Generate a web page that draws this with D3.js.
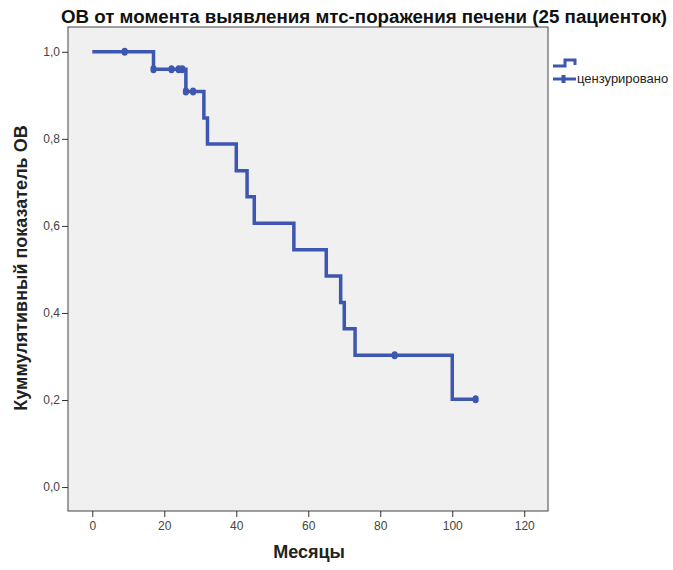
<!DOCTYPE html>
<html>
<head>
<meta charset="utf-8">
<script src="https://cdn.jsdelivr.net/npm/d3@7/dist/d3.min.js"></script>
<style>
  body { margin: 0; background: #fff; }
  svg { display: block; font-family: "Liberation Sans", Arial, sans-serif; }
</style>
</head>
<body>
<div id="chart"></div>
<script>
(function() {
    'use strict';

    // event times (months) and survival level after each drop
    var eventTimes = [0, 17, 26, 31, 32, 40, 43, 45, 56, 65, 69, 70, 73, 100];
    var survival = [1.0, 0.96, 0.909, 0.848, 0.788, 0.727, 0.667, 0.606, 0.545, 0.485, 0.424, 0.364, 0.303, 0.202];
    var lastTime = 106.5;

    // censored observations
    var censorTimes = [9, 17, 22, 24, 25, 26, 28, 84, 106.5];

    var xTicks = [0, 20, 40, 60, 80, 100, 120];
    var yTicks = [0, 0.2, 0.4, 0.6, 0.8, 1.0];

    var title = 'ОВ от момента выявления мтс-поражения печени (25 пациенток)';
    var xTitle = 'Месяцы';
    var yTitle = 'Куммулятивный показатель ОВ';
    var legendLabel = 'цензурировано';

    var W = 673, H = 570;
    var box = {left: 68, right: 548, top: 27, bottom: 511};
    var lineColor = '#3d57b1';

    var svg = d3.select('#chart').append('svg')
        .attr('width', W).attr('height', H);

    var x = d3.scaleLinear().domain([-6.75, 126.6]).range([box.left, box.right]);
    var y = d3.scaleLinear().domain([-0.055, 1.057]).range([box.bottom, box.top]);

    // plot background
    svg.append('rect')
        .attr('x', box.left).attr('y', box.top)
        .attr('width', box.right - box.left).attr('height', box.bottom - box.top)
        .attr('fill', '#f0f0f0').attr('stroke', '#444').attr('stroke-width', 1);

    // axes
    var fmt = function(d) { return d3.format('.1f')(d).replace('.', ','); };

    var yAxis = svg.append('g')
        .attr('transform', 'translate(' + box.left + ',0)')
        .call(d3.axisLeft(y).tickValues(yTicks).tickFormat(fmt).tickSize(6).tickPadding(2));
    var xAxis = svg.append('g')
        .attr('transform', 'translate(0,' + box.bottom + ')')
        .call(d3.axisBottom(x).tickValues(xTicks).tickSize(6).tickPadding(4));

    [xAxis, yAxis].forEach(function(a) {
        a.select('.domain').remove();
        a.selectAll('.tick line').attr('stroke', '#333');
        a.selectAll('.tick text').attr('fill', '#444')
            .style('font-size', '12px').style('font-family', '"Liberation Sans", Arial, sans-serif');
    });

    // step curve
    var pts = [];
    for (var i = 0; i < eventTimes.length; i++) {
        pts.push([eventTimes[i], survival[i]]);
    }
    pts.push([lastTime, survival[survival.length - 1]]);

    var line = d3.line()
        .x(function(d) { return x(d[0]); })
        .y(function(d) { return y(d[1]); })
        .curve(d3.curveStepAfter);

    svg.append('path')
        .datum(pts)
        .attr('d', line)
        .attr('fill', 'none')
        .attr('stroke', lineColor)
        .attr('stroke-width', 3.5)
        .attr('stroke-linejoin', 'miter');

    // value of the curve at time t
    function survAt(t) {
        var s = 1;
        for (var i = 0; i < eventTimes.length; i++) {
            if (eventTimes[i] <= t) s = survival[i];
        }
        return s;
    }

    svg.append('g').selectAll('rect')
        .data(censorTimes).enter().append('rect')
        .attr('x', function(d) { return x(d) - 3; })
        .attr('y', function(d) { return y(survAt(d)) - 4; })
        .attr('width', 6).attr('height', 8)
        .attr('rx', 3)
        .attr('fill', lineColor);

    // titles
    svg.append('text')
        .attr('x', 364).attr('y', 23)
        .attr('text-anchor', 'middle')
        .attr('textLength', 606).attr('lengthAdjust', 'spacingAndGlyphs')
        .style('font-size', '18px').style('font-weight', 'bold')
        .attr('fill', '#111')
        .text(title);

    svg.append('text')
        .attr('x', 309).attr('y', 558)
        .attr('text-anchor', 'middle')
        .style('font-size', '18px').style('font-weight', 'bold')
        .attr('fill', '#222')
        .text(xTitle);

    svg.append('text')
        .attr('transform', 'translate(27,' + 268 + ') rotate(-90)')
        .attr('text-anchor', 'middle')
        .style('font-size', '18px').style('font-weight', 'bold')
        .attr('fill', '#222')
        .text(yTitle);

    // legend
    var lg = svg.append('g');
    lg.append('path')
        .attr('d', 'M553,66 H565 V60 H575 V65')
        .attr('fill', 'none').attr('stroke', lineColor).attr('stroke-width', 3);
    lg.append('line')
        .attr('x1', 553).attr('x2', 576).attr('y1', 79).attr('y2', 79)
        .attr('stroke', lineColor).attr('stroke-width', 3);
    lg.append('rect')
        .attr('x', 561.5).attr('y', 75).attr('width', 4).attr('height', 8)
        .attr('fill', lineColor);
    lg.append('text')
        .attr('x', 577).attr('y', 83)
        .style('font-size', '13px')
        .attr('fill', '#222')
        .text(legendLabel);
})();
</script>
</body>
</html>
